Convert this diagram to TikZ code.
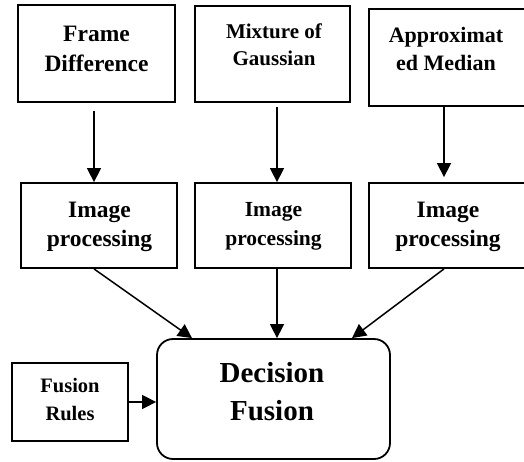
\documentclass[tikz,border=0pt]{standalone}
\usepackage{fontspec}
\setmainfont{Liberation Serif}
\usepackage{tikz}
\usetikzlibrary{arrows.meta}

\tikzset{
    blk/.style={draw, line width=1.8pt, rectangle, inner sep=0pt},
    txt/.style={align=center, inner sep=0pt, font=\bfseries},
    arr/.style={line width=1.5pt, -{Triangle[width=14pt,length=14pt]}},
}

\begin{document}
\begin{tikzpicture}[x=1pt, y=-1pt]
    \useasboundingbox (0, 0) rectangle (524, 461); % page size
    \clip (0, 0) rectangle (524, 461);
    % top row
    \node[blk, minimum width=157pt, minimum height=97pt] (fd) at (96.5, 53.5) {};
    \node[blk, minimum width=155pt, minimum height=96pt] (mog) at (272.5, 54) {};
    \node[blk, minimum width=161pt, minimum height=97pt] (am) at (449.5, 57.5) {};
    \node[txt, font=\bfseries\fontsize{23.5}{30}\selectfont] (fdt) at (96.5, 49) {Frame\\Difference};
    \node[txt, font=\bfseries\fontsize{21}{27}\selectfont] (mogt) at (274, 45) {Mixture of\\Gaussian};
    \node[txt, font=\bfseries\fontsize{22}{28}\selectfont] (amt) at (446, 48.5) {Approximat\\ed Median};
    % middle row
    \node[blk, minimum width=156pt, minimum height=85pt] (ip1) at (99, 225.5) {};
    \node[blk, minimum width=156pt, minimum height=85pt] (ip2) at (273, 225.5) {};
    \node[blk, minimum width=161pt, minimum height=85pt] (ip3) at (449.5, 225.5) {};
    \node[txt, font=\bfseries\fontsize{23.5}{29}\selectfont] (ip1t) at (99.5, 226.5) {Image\\processing};
    \node[txt, font=\bfseries\fontsize{21.5}{29}\selectfont] (ip2t) at (273.5, 226.5) {Image\\processing};
    \node[txt, font=\bfseries\fontsize{23.5}{29}\selectfont] (ip3t) at (448, 226.5) {Image\\processing};
    % bottom
    \node[blk, rounded corners=16pt, minimum width=233pt, minimum height=120pt] (df) at (273.5, 399) {};
    \node[blk, minimum width=116pt, minimum height=78pt] (fr) at (70, 402) {};
    \node[txt, font=\bfseries\fontsize{29}{38}\selectfont] (dft) at (272, 391.5) {Decision\\Fusion};
    \node[txt, font=\bfseries\fontsize{20.5}{28}\selectfont] (frt) at (70, 400) {Fusion\\Rules};
    % arrows
    \draw[arr, shorten <=8pt] ([xshift=-2.5pt]fd.south) -- ([xshift=-5pt]ip1.north);
    \draw[arr, shorten <=4pt] ([xshift=4.5pt]mog.south) -- ([xshift=4pt]ip2.north);
    \draw[arr, shorten >=5pt] ([xshift=-5.5pt]am.south) -- ([xshift=-5.5pt]ip3.north);
    \draw[arr] ([xshift=-5pt]ip1.south) -- ([xshift=-81.5pt]df.north);
    \draw[arr] ([xshift=4pt]ip2.south) -- ([xshift=3.5pt]df.north);
    \draw[arr] ([xshift=-5.5pt]ip3.south) -- ([xshift=78.5pt]df.north);
    \draw[arr] (fr.east) -- (fr.east -| df.west);
\end{tikzpicture}
\end{document}
